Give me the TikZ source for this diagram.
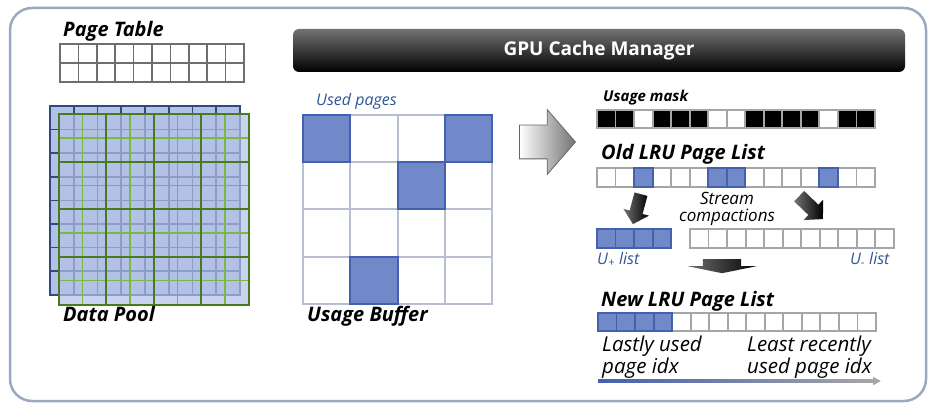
\documentclass[tikz,border=0pt]{standalone}
\usepackage{fontspec}
\setmainfont{Open Sans}
\usepackage{xcolor}
\usepackage{tikz}
\usetikzlibrary{shapes,arrows,arrows.meta,positioning,calc}
\definecolor{usedblue}{RGB}{113,137,200}
\definecolor{usededge}{RGB}{68,96,176}
\definecolor{gridgray}{RGB}{184,192,208}
\definecolor{listgray}{RGB}{166,166,166}
\definecolor{tablegray}{RGB}{110,110,110}
\definecolor{poolblue}{RGB}{180,193,230}
\definecolor{pooledge}{RGB}{46,74,126}
\definecolor{darkgreen}{RGB}{74,122,32}
\definecolor{lightgreen}{RGB}{122,184,64}
\definecolor{textblue}{RGB}{46,85,151}
\definecolor{framegray}{RGB}{154,168,192}
\tikzset{
    outerframe/.style={
        draw=framegray,
        line width=2.5pt,
        rounded corners=22pt
    },
    managerbar/.style={
        rectangle,
        rounded corners=6pt,
        minimum width=612pt,
        minimum height=43pt,
        top color=black!55,
        middle color=black,
        bottom color=black,
        text=white,
        font=\fontsize{19}{22}\selectfont\bfseries
    },
    bigtitle/.style={
        anchor=base west,
        inner sep=0pt,
        font=\fontsize{20}{22}\selectfont\bfseries\itshape
    },
    smalltitle/.style={
        anchor=base west,
        inner sep=0pt,
        font=\fontsize{15}{17}\selectfont\bfseries\itshape
    },
    bluenote/.style={
        anchor=base west,
        inner sep=0pt,
        text=textblue,
        font=\fontsize{16}{18}\selectfont\itshape
    },
    tablecell/.style={
        rectangle,
        draw=tablegray,
        fill=white,
        line width=1.6pt,
        minimum width=18.4pt,
        minimum height=19pt,
        inner sep=0pt
    },
    poolcell/.style={
        rectangle,
        draw=pooledge,
        fill=poolblue,
        line width=1.6pt,
        minimum width=23.75pt,
        minimum height=23.6pt,
        inner sep=0pt
    },
    poolfront/.style={
        rectangle,
        fill=poolblue,
        fill opacity=0.7,
        minimum size=190pt,
        inner sep=0pt
    },
    minorline/.style={draw=lightgreen, line width=1.3pt},
    majorline/.style={draw=darkgreen, line width=2.2pt},
    bufcell/.style={
        rectangle,
        draw=gridgray,
        fill=white,
        line width=2pt,
        minimum size=47.25pt,
        inner sep=0pt
    },
    bufused/.style={
        bufcell,
        draw=usededge,
        fill=usedblue
    },
    listcell/.style={
        rectangle,
        draw=listgray,
        fill=white,
        line width=1.8pt,
        minimum width=18.53pt,
        minimum height=18.5pt,
        inner sep=0pt
    },
    usedcell/.style={
        listcell,
        draw=usededge,
        fill=usedblue
    },
    bigarrow/.style={
        single arrow,
        draw=black!60,
        line width=0.8pt,
        left color=white,
        right color=black!55,
        minimum height=56pt,
        inner xsep=0pt,
        inner ysep=16.5pt,
        single arrow head extend=15.5pt,
        single arrow tip angle=98
    },
    droparrow/.style={
        single arrow,
        left color=black!55,
        right color=black,
        inner xsep=0pt
    },
    idxline/.style={
        draw=listgray,
        line width=2.2pt,
        -{Triangle[length=8pt,width=8pt]}
    },
    idxnote/.style={
        anchor=north west,
        align=left,
        inner sep=0pt,
        font=\fontsize{20.5}{18.5}\selectfont\itshape
    }
}
\begin{document}
\begin{tikzpicture}[x=1pt, y=-1pt, node distance=4pt]
\useasboundingbox (0,0) rectangle (928,403);
% Frame
\draw[outerframe] (10,8) rectangle (926,401);

% GPU Cache Manager
\node[managerbar] (manager) at (599,50.5) {GPU Cache Manager};

% Page Table
\foreach \r in {0,1}
    \foreach \c in {0,...,9}
        \node[tablecell] (pt-\r-\c) at ({69.2+18.4*\c}, {53.5+19*\r}) {};
\node[bigtitle] (pt-label) at (63,37) {Page Table};

% Data Pool (back layer)
\foreach \r in {0,...,7}
    \foreach \c in {0,...,7}
        \node[poolcell] (dp-\r-\c) at ({61.875+23.75*\c}, {117.8+23.6*\r}) {};
% Data Pool (front layer)
\node[poolfront] (front) at (154,209.5) {};
\foreach \k in {1,3,5,7} {
    \draw[minorline] ($(front.north west)+(23.75*\k,0)$) -- ($(front.south west)+(23.75*\k,0)$);
    \draw[minorline] ($(front.north west)+(0,23.75*\k)$) -- ($(front.north east)+(0,23.75*\k)$);
}
\foreach \k in {2,4,6} {
    \draw[majorline] ($(front.north west)+(23.75*\k,0)$) -- ($(front.south west)+(23.75*\k,0)$);
    \draw[majorline] ($(front.north west)+(0,23.75*\k)$) -- ($(front.north east)+(0,23.75*\k)$);
}
\draw[majorline] (front.north west) rectangle (front.south east);
\node[bigtitle] (dp-label) at (63,321) {Data Pool};

% Usage Buffer
\foreach \r in {0,...,3}
    \foreach \c in {0,...,3}
        \node[bufcell] (ub-\r-\c) at ({326.625+47.25*\c}, {138.625+47.25*\r}) {};
\foreach \r/\c in {0/0,0/3,1/2,3/1}
    \node[bufused] (ubu-\r-\c) at (ub-\r-\c) {};
\node[bluenote] (used-label) at (316,106) {Used pages};
\node[bigtitle] (ub-label) at (307,321) {Usage Buffer};

% Arrow to the LRU lists
\node[bigarrow, anchor=tail] (bigarrow) at (519,142) {};

% Usage mask
\node[smalltitle] (mask-label) at (603,102) {Usage mask};
\foreach \f [count=\i from 0] in {black,black,white,black,black,black,white,white,black,black,black,black,white,black,black}
    \node[listcell, fill=\f] (mask-\i) at ({606.27+18.53*\i}, 119) {};

% Old LRU Page List
\node[bigtitle] (old-label) at (601,160) {Old LRU Page List};
\foreach \i in {0,...,14}
    \node[listcell] (old-\i) at ({606.27+18.53*\i}, 177.5) {};
\foreach \i in {2,6,7,12}
    \node[usedcell] (oldu-\i) at (old-\i) {};

% Stream compactions
\node[droparrow, rotate=-105, anchor=tail, minimum height=31pt, inner ysep=6.5pt,
      single arrow head extend=6.5pt, single arrow tip angle=94] (drop-left) at (641,194) {};
\node[droparrow, rotate=-44, anchor=tail, minimum height=33pt, inner ysep=7pt,
      single arrow head extend=7pt, single arrow tip angle=94] (drop-right) at (799,196) {};
\node[align=center, inner sep=0pt, font=\fontsize{17}{17}\selectfont\itshape] (stream) at (727,209) {Stream\\compactions};

% U+ and U- lists
\foreach \i in {0,...,3}
    \node[usedcell] (up-\i) at ({606.27+18.53*\i}, 238.5) {};
\foreach \i in {0,...,10}
    \node[listcell] (um-\i) at ({699.27+18.53*\i}, 238.5) {};
\node[bluenote] (up-label) at (597,264) {U\textsubscript{+} list};
\node[bluenote] (um-label) at (850,264) {U\textsubscript{-} list};
\node[droparrow, rotate=-90, anchor=tail, minimum height=14pt, inner ysep=19pt,
      single arrow head extend=15.5pt, single arrow tip angle=157] (merge) at (722,259) {};

% New LRU Page List
\node[bigtitle] (new-label) at (601,306) {New LRU Page List};
\foreach \i in {0,...,14}
    \node[listcell] (new-\i) at ({607.27+18.53*\i}, 322) {};
\foreach \i in {0,...,3}
    \node[usedcell] (newu-\i) at (new-\i) {};

% Index direction
\node[idxnote] (lastly) at (602,336) {Lastly used\\page idx};
\node[idxnote] (least) at (747,336) {Least recently\\used page idx};
\coordinate (idx-start) at (598,381);
\coordinate (idx-end) at (881,381);
\draw[idxline] (idx-start) -- (idx-end);
\shade[left color=usededge, right color=listgray] ($(idx-start)+(0,-1.1)$) rectangle ($(idx-end)+(-8,1.1)$);
\end{tikzpicture}
\end{document}
